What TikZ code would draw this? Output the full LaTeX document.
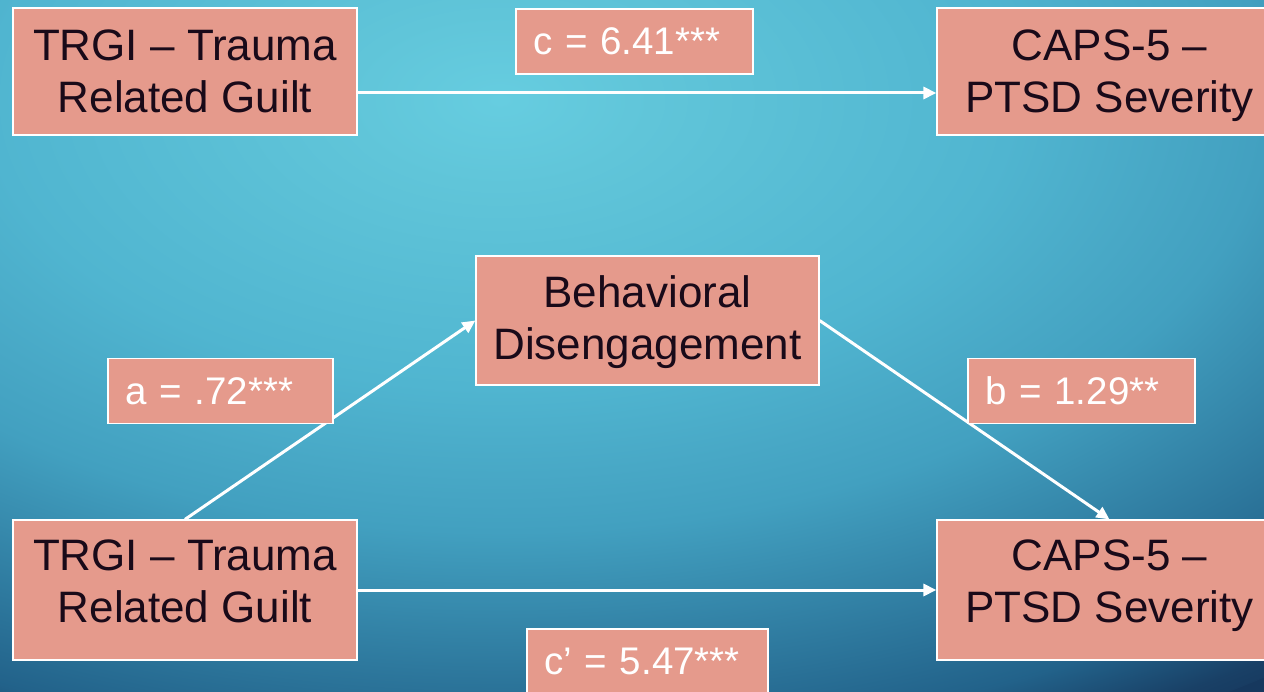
\documentclass[tikz,border=0pt]{standalone}
\usepackage{fontspec}
\setmainfont{Liberation Sans}
\usetikzlibrary{arrows.meta}
\definecolor{boxfill}{RGB}{229,154,140}
\definecolor{txtdark}{RGB}{25,10,25}
\definecolor{bgA}{RGB}{102,205,224}
\definecolor{bgB}{RGB}{96,197,217}
\definecolor{bgC}{RGB}{80,181,208}
\definecolor{bgD}{RGB}{72,168,198}
\definecolor{bgE}{RGB}{66,160,192}
\definecolor{bgF}{RGB}{34,98,138}
\definecolor{bgG}{RGB}{25,64,102}
\definecolor{bgH}{RGB}{22,56,94}
\pgfdeclareradialshading{bgrad}{\pgfpoint{0bp}{0bp}}{color(0bp)=(bgA); color(3bp)=(bgB); color(10bp)=(bgC); color(13bp)=(bgD); color(15bp)=(bgE); color(22.5bp)=(bgF); color(24.5bp)=(bgG); color(25.5bp)=(bgH); color(50bp)=(bgH)}
\newcommand{\mytwoline}[3]{\raisebox{#1}[\height][\depth]{\begin{tabular}{@{}c@{}}#2\\#3\end{tabular}}}
\tikzset{
  mainbox/.style={draw=white, line width=1.2pt, fill=boxfill, text=txtdark,
    font=\fontsize{44}{52}\selectfont, inner sep=0pt},
  labelbox/.style={draw=white, line width=1.2pt, fill=boxfill, text=white,
    font=\fontsize{38.5}{46}\selectfont, align=left, inner xsep=17pt, inner ysep=0pt,
    minimum height=65pt},
  conn/.style={draw=white, line width=3pt, -{Triangle[length=13pt,width=12pt]}}
}
\begin{document}
\begin{tikzpicture}[x=1pt,y=-1pt]
\useasboundingbox (0,0) rectangle (1264,692);
\fill[bgH] (0,0) rectangle (1264,692);
\begin{scope}
\clip (0,0) rectangle (1264,692);
\shade[shading=bgrad] (500,100) ellipse [x radius=1280, y radius=720];
\end{scope}
% main boxes
\node[mainbox, minimum width=344pt, minimum height=127pt] (trgi1) at (185,71.5) {\mytwoline{-4.85pt}{TRGI -- Trauma}{Related Guilt}};
\node[mainbox, minimum width=345pt, minimum height=127pt] (caps1) at (1109.5,71.5) {\mytwoline{-4.85pt}{CAPS-5 --}{PTSD Severity}};
\node[mainbox, minimum width=343pt, minimum height=129pt] (behav) at (647.5,320.5) {\mytwoline{-2.85pt}{Behavioral}{Disengagement}};
\node[mainbox, minimum width=344pt, minimum height=140pt] (trgi2) at (185,590) {\mytwoline{3.65pt}{TRGI -- Trauma}{Related Guilt}};
\node[mainbox, minimum width=345pt, minimum height=140pt] (caps2) at (1109.5,590) {\mytwoline{3.65pt}{CAPS-5 --}{PTSD Severity}};
% connectors
\draw[conn] ([yshift=-21.5pt]trgi1.east) -- ([yshift=-21.5pt]caps1.west);
\draw[conn] (trgi2.north) -- (behav.west);
\draw[conn] (behav.east) -- (caps2.north);
\draw[conn] (trgi2.east) -- (caps2.west);
% labels
\node[labelbox, text width=203pt] (lc) at (634.5,41.5) {c = 6.41***};
\node[labelbox, text width=191pt] (la) at (220.5,391) {a = .72***};
\node[labelbox, text width=193pt] (lb) at (1081.5,391) {b = 1.29**};
\node[labelbox, text width=207pt] (lcp) at (647.5,661.5) {c’ = 5.47***};
\end{tikzpicture}
\end{document}
